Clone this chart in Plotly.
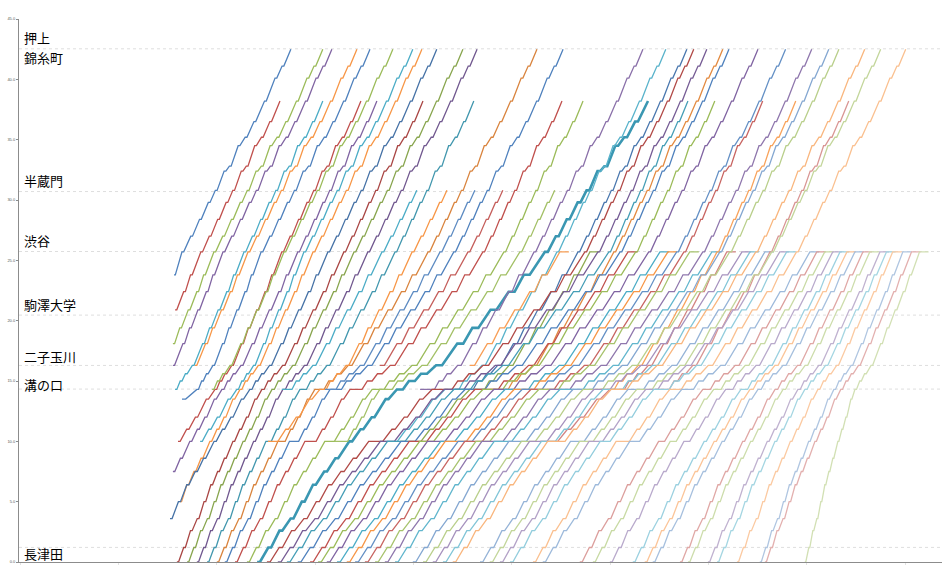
import plotly.graph_objects as go

# ---------------------------------------------------------------
# Stations (bottom -> top) and their chart position in km
# ---------------------------------------------------------------
STATION_NAMES = [
    "長津田", "田奈", "青葉台", "藤が丘", "市が尾", "江田", "あざみ野", "たまプラーザ",
    "鷺沼", "宮前平", "宮崎台", "梶が谷", "溝の口", "高津", "二子新地", "二子玉川",
    "用賀", "桜新町", "駒沢大学", "三軒茶屋", "池尻大橋", "渋谷",
    "表参道", "青山一丁目", "永田町", "半蔵門", "九段下", "神保町", "大手町",
    "三越前", "水天宮前", "清澄白河", "住吉", "錦糸町", "押上",
]
STATION_KM = [
    0.0, 1.2, 2.6, 3.6, 5.0, 6.4, 7.5, 8.6,
    10.0, 11.0, 12.0, 13.5, 14.3, 15.0, 15.6, 16.3,
    18.1, 19.4, 20.9, 22.4, 23.8, 25.7,
    27.0, 28.4, 29.8, 30.8, 32.4, 32.8, 34.5,
    35.2, 36.5, 38.2, 40.1, 41.1, 42.5,
]
# standard running minutes between consecutive stations
RUN_MIN = [
    1.5, 1.5, 1.5, 1.5, 1.5, 1.5, 1.5, 2.0,
    1.5, 1.5, 2.0, 1.5, 1.0, 1.0, 1.5, 2.5,
    1.5, 2.0, 2.0, 1.5, 2.5,
    2.0, 2.0, 2.0, 1.5, 2.0, 1.0, 2.0,
    1.5, 2.0, 2.5, 2.5, 1.5, 2.0,
]
DWELL_MIN = 0.5
SHIBUYA_TURN_MIN = 2.5
SAGINUMA = 8
MIZONOKUCHI = 12
SHIBUYA = 21

# ---------------------------------------------------------------
# Trains: origin, terminus and times (minutes) at the key points
# ---------------------------------------------------------------
TRAIN_FROM = [
    20, 18, 16, 15, 12, 15, 11, 8, 12, 6, 8, 4, 3, 0, 0, 0,
    0, 0, 0, 0, 0, 0, 12, 8, 12, 15, 8, 12,
    8, 15, 12, 0, 8, 0, 0, 12, 0, 0, 0, 0, 0, 0, 0, 0, 0, 0, 0,
    12, 0, 8, 0, 0, 0, 0, 0, 12, 0, 0, 0, 0, 0, 0, 0, 0, 0, 0,
    0, 0, 0, 0, 0, 0, 0, 0, 0,
]
TRAIN_TO = [
    34, 31, 34, 34, 31, 34, 34, 31, 34, 31, 34, 34, 34, 31, 34, 34,
    31, 34, 34, 31, 31, 31, 25, 25, 25, 25, 25, 34,
    34, 21, 34, 34, 21, 34, 31, 34, 34, 21, 31, 34, 21, 21, 34, 31, 21, 34, 21,
    31, 34, 21, 34, 21, 21, 34, 21, 31, 34, 21, 21, 34, 21, 21, 21, 21, 21, 21,
    21, 21, 21, 21, 21, 21, 21, 21, 21,
]
T_START = [
    0.7, 1.0, 0.4, 0.4, 1.0, 6.5, 2.9, 1.8, 11.2, 0.4, 7.9, 2.3, -0.4, 1.5, 4.3, 7.0,
    9.8, 12.5, 14.7, 17.5, 20.8, 23.6, 30.4, 26.6, 42.3, 57.4, 45.0, 68.5,
    57.4, 82.2, 78.1, 26.3, 62.9, 29.3, 31.8, 87.7, 34.8, 38.2, 40.4, 42.8, 45.6, 48.3, 50.6, 53.3, 56.1, 58.8, 61.6,
    118.0, 66.5, 101.5, 69.3, 72.0, 74.8, 77.5, 85.0, 133.2, 87.7, 90.5, 93.3, 99.6, 102.3, 112.5, 116.1, 120.8, 127.1, 130.4,
    132.6, 140.1, 142.3, 147.8, 150.3, 155.8, 162.1, 163.5, 174.5,
]
T_MIZONOKUCHI = [
    None, None, None, None, None, None, 7.0, 12.0, None, 13.9, 18.0, 18.9, 21.6, 24.9, 27.7, 30.7,
    35.4, 39.5, 43.7, 49.2, 55.3, 62.1, None, 40.9, None, None, 57.4, None,
    75.3, None, None, 71.8, 82.2, 75.1, 77.8, None, 80.9, 83.6, 85.8, 88.8, 91.9, 94.4, 96.6, 99.0, 101.2, 104.3, 107.0,
    None, 110.6, 120.8, 113.4, 116.4, 118.9, 121.1, 125.8, None, 128.2, 130.7, 132.9, 137.3, 140.6, 146.4, 149.4, 152.7, 156.9, 159.4,
    161.6, 166.3, 168.5, 172.6, 174.5, 178.1, 182.5, 184.4, 188.3,
]
T_SHIBUYA = [
    2.9, 8.1, 11.7, 14.2, 20.0, 21.1, 24.7, 30.4, 31.0, 34.8, 36.5, 39.0, 43.1, 47.5, 50.3, 54.1,
    61.6, 70.7, 77.8, 85.8, 91.6, 102.9, 58.0, 66.3, 74.0, 81.7, 96.0, 99.9,
    106.2, 107.0, 112.0, 113.9, 115.3, 117.5, 120.5, 121.9, 123.6, 125.8, 127.9, 131.5, 134.6, 136.8, 139.2, 141.2, 142.8, 146.4, 148.9,
    150.3, 151.1, 153.0, 153.8, 157.2, 159.4, 161.0, 163.5, 164.9, 165.4, 167.6, 169.5, 172.2, 175.9, 177.8, 180.0, 182.2, 184.2, 186.1,
    188.3, 190.5, 192.4, 195.2, 197.0, 198.7, 201.5, 203.9, 206.1,
]
T_END = [
    32.9, 29.9, 41.7, 44.2, 41.7, 51.1, 54.7, 52.2, 61.0, 56.6, 66.5, 69.0, 73.1, 69.3, 80.3, 84.2,
    83.3, 100.7, 107.9, 107.6, 113.4, 131.3, 67.6, 75.9, 83.6, 91.3, 105.6, 129.9,
    136.2, None, 142.0, 143.9, None, 147.5, 142.3, 151.9, 153.6, None, 149.7, 161.6, None, None, 169.2, 162.9, None, 176.4, None,
    172.0, 181.1, None, 183.9, None, None, 191.0, None, 186.6, 195.4, None, None, 202.3, None, None, None, None, None, None,
    None, None, None, None, None, None, None, None, None,
]
# extra minutes held at 鷺沼 and 溝の口 during the crowded period
WAIT_SAGINUMA = [
    0, 0, 0, 0, 0, 0, 0, 0, 0, 0, 0, 0, 0, 0, 0, 0,
    1, 1.5, 2, 2.5, 2, 0, 0, 2, 0, 0, 3, 0,
    4, 0, 0, 3, 5, 3, 4, 0, 3, 4, 3, 4, 3, 5, 3, 4, 3, 5, 4,
    0, 4, 4, 3, 4, 3, 4, 3, 0, 3, 3, 2, 3, 2, 1, 1, 1, 0, 0,
    0, 0, 0, 0, 0, 0, 0, 0, 0,
]
WAIT_MIZONOKUCHI = [
    0, 0, 0, 0, 0, 0, 0, 0, 0, 0, 0, 0, 0, 0, 0, 0,
    1, 1.5, 2, 2, 2, 0, 2, 1, 2, 0, 2, 3,
    3, 0, 4, 4, 3, 4, 3, 4, 4, 5, 4, 4, 5, 4, 4, 5, 4, 4, 5,
    3, 4, 3, 4, 3, 4, 3, 3, 3, 3, 2, 3, 2, 2, 1, 1, 1, 1, 0,
    0, 0, 0, 0, 0, 0, 0, 0, 0,
]
HIGHLIGHT_TRAIN = 21

# axis / guide lines
Y_TICKS = [0, 5, 10, 15, 20, 25, 30, 35, 40, 45]
GUIDE_KM = [1.21, 14.33, 16.29, 20.46, 25.73, 30.70, 42.53]
LABEL_NAMES = ["押上", "錦糸町", "半蔵門", "渋谷", "駒澤大学", "二子玉川", "溝の口", "長津田"]
LABEL_KM = [43.45, 41.80, 31.59, 26.62, 21.32, 17.01, 14.69, 0.69]

# Excel-style series palette
BASE_COLORS = ["#4F81BD", "#C0504D", "#9BBB59", "#8064A2", "#4BACC6", "#F79646"]
SHADES = [0.0, 0.0, -0.12, 0.0, 0.08, -0.08, 0.0, 0.12, 0.3, 0.4, 0.45, 0.5, 0.55]

# share of any extra time that goes into running (rest goes into station stops)
RUN_SHARE_LOWER = 0.75
RUN_SHARE_MIDDLE = 0.5
RUN_SHARE_UPPER = 0.4


def shade(hex_color, f):
    r, g, b = (int(hex_color[i:i + 2], 16) for i in (1, 3, 5))
    if f >= 0:
        r, g, b = (round(c + (255 - c) * f) for c in (r, g, b))
    else:
        r, g, b = (round(c * (1 + f)) for c in (r, g, b))
    return f"rgb({r},{g},{b})"


def section(a, b, ta, tb, run_share, holds):
    """Stops from station a to station b, stretched to run from ta to tb."""
    dwell = [DWELL_MIN] * (b - a)
    run = RUN_MIN[a:b]
    hold = [holds.get(s, 0) for s in range(a, b)]
    std = sum(dwell) + sum(run)
    span = max(tb - ta - sum(hold), 0.35 * std)
    if span >= std:
        extra = span - std
        kd = 1 + (1 - run_share) * extra / sum(dwell)
        kr = 1 + run_share * extra / sum(run)
    else:
        kd = kr = span / std
    total = span + sum(hold)
    fit = (tb - ta) / total
    pts = []
    t = ta
    for i, s in enumerate(range(a, b)):
        pts.append((t, STATION_KM[s]))
        t += (dwell[i] * kd + hold[i]) * fit
        pts.append((t, STATION_KM[s]))
        t += run[i] * kr * fit
    pts.append((tb, STATION_KM[b]))
    return pts


def train_path(k):
    o, d = TRAIN_FROM[k], TRAIN_TO[k]
    holds = {SAGINUMA: WAIT_SAGINUMA[k], MIZONOKUCHI: WAIT_MIZONOKUCHI[k]}
    marks = [(o, T_START[k])]
    if T_MIZONOKUCHI[k] is not None:
        marks.append((MIZONOKUCHI, T_MIZONOKUCHI[k]))
    marks.append((SHIBUYA, T_SHIBUYA[k]))
    if d > SHIBUYA:
        marks.append((d, T_END[k]))
    pts = []
    for (a, ta), (b, tb) in zip(marks[:-1], marks[1:]):
        if b <= MIZONOKUCHI:
            share = RUN_SHARE_LOWER
        elif b <= SHIBUYA:
            share = RUN_SHARE_MIDDLE
        else:
            share = RUN_SHARE_UPPER
        seg = section(a, b, ta, tb, share, holds)
        pts.extend(seg if not pts else seg[1:])
    if d == SHIBUYA:
        pts.append((T_SHIBUYA[k] + SHIBUYA_TURN_MIN, STATION_KM[SHIBUYA]))
    return pts


fig = go.Figure()

for k in range(len(TRAIN_FROM)):
    pts = train_path(k)
    if k == HIGHLIGHT_TRAIN:
        color, width = "#3A97B2", 2.6
    else:
        color = shade(BASE_COLORS[k % 6], SHADES[min(k // 6, len(SHADES) - 1)])
        width = 1.3
    fig.add_trace(go.Scatter(
        x=[p[0] for p in pts], y=[p[1] for p in pts],
        mode="lines", line=dict(color=color, width=width),
        hoverinfo="skip", showlegend=False,
    ))

# station guide lines
for km in GUIDE_KM:
    fig.add_shape(type="line", xref="paper", x0=0, x1=1, yref="y", y0=km, y1=km,
                  line=dict(color="#dedede", width=1, dash="dot"), layer="below")

# station names
for name, km in zip(LABEL_NAMES, LABEL_KM):
    fig.add_annotation(x=0.0038, xref="paper", y=km, yref="y", text=name,
                       showarrow=False, xanchor="left", yanchor="middle", borderpad=0,
                       font=dict(family="Noto Sans CJK JP", size=13, color="#000000"))

fig.update_layout(
    width=942, height=567,
    margin=dict(l=19, r=0, t=19, b=5),
    paper_bgcolor="white", plot_bgcolor="white",
    showlegend=False,
)
fig.update_xaxes(
    range=[-42.0, 212.3], showgrid=False, zeroline=False,
    showline=True, linecolor="#8c8c8c", linewidth=1,
    ticks="outside", ticklen=2, tickcolor="#e2e2e2",
    tick0=12.5, dtick=27.1, showticklabels=False,
)
fig.update_yaxes(
    range=[0, 45], showgrid=False, zeroline=False,
    showline=True, linecolor="#8c8c8c", linewidth=1,
    ticks="outside", ticklen=2, tickcolor="#8c8c8c",
    tickvals=Y_TICKS, ticktext=[f"{v:.1f}" for v in Y_TICKS],
    tickfont=dict(family="Liberation Sans", size=4, color="#595959"),
)

fig.write_html("out.html")
